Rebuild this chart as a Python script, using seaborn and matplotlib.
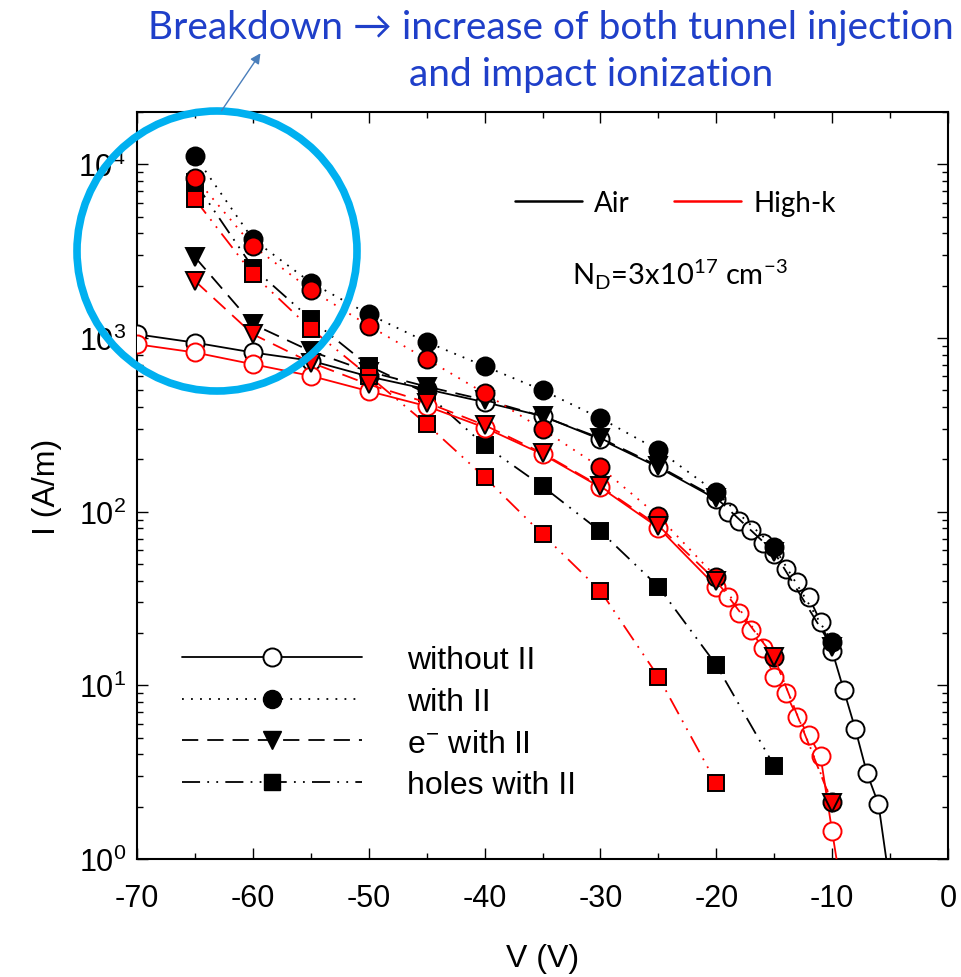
import numpy as np
import pandas as pd
import matplotlib
matplotlib.use("Agg")
import matplotlib.pyplot as plt
from matplotlib.lines import Line2D
from matplotlib.patches import Ellipse, FancyArrowPatch
import seaborn as sns

# ---------------- data ----------------
V_main = [-65, -60, -55, -50, -45, -40, -35, -30, -25, -20, -15, -10]

V_air_wo = [-70, -65, -60, -55, -50, -45, -40, -35, -30, -25, -20, -19, -18, -17,
            -16, -15, -14, -13, -12, -11, -10, -9, -8, -7, -6, -5]
I_air_wo = [1050, 940, 825, 740, 600, 507, 427, 355, 261, 180, 118, 99, 88.6, 78,
            65.6, 57, 46.7, 39.1, 32.1, 23.2, 15.8, 9.4, 5.6, 3.13, 2.07, 0.7]

V_hk_wo = [-70, -65, -60, -55, -50, -45, -40, -35, -30, -25, -20, -19, -18, -17,
           -16, -15, -14, -13, -12, -11, -10, -9]
I_hk_wo = [920, 825, 706, 605, 494, 405, 305, 214, 138, 81, 37, 32.1, 26.1, 20.8,
           16.3, 11.2, 9.0, 6.54, 5.17, 3.9, 1.44, 0.55]

I_air_ii = [11170, 3700, 2085, 1370, 948, 688, 500, 345, 226, 129, 62.5, 17.7]
I_hk_ii = [8380, 3390, 1891, 1177, 755, 481, 298, 180, 94, 42, 14.5, 2.13]

I_air_e = [2920, 1200, 839, 640, 525, 440, 354, 265, 183, 120, 58.5, 16.6]
I_hk_e = [2130, 1051, 722, 540, 425, 315, 217, 140, 83, 40, 14.5, 2.1]

V_air_h = [-65, -60, -55, -50, -45, -40, -35, -30, -25, -20, -15]
I_air_h = [7870, 2540, 1282, 691, 480, 241, 140, 77, 37, 13.1, 3.44]
V_hk_h = [-65, -60, -55, -50, -45, -40, -35, -30, -25, -20]
I_hk_h = [6290, 2330, 1130, 605, 319, 158, 74, 35, 11.2, 2.74]

x_ticks = [-70, -60, -50, -40, -30, -20, -10, 0]
legend_labels = ["without II", "with II", "e$^{-}$ with II", "holes with II"]
env_labels = ["Air", "High-k"]

# ---------------- style ----------------
sns.set_theme(style="ticks")
plt.rcParams["font.family"] = ["Liberation Sans", "DejaVu Sans"]
plt.rcParams["mathtext.fontset"] = "custom"
plt.rcParams["mathtext.rm"] = "Liberation Sans"
plt.rcParams["mathtext.it"] = "Liberation Sans:italic"
plt.rcParams["axes.unicode_minus"] = False
for k in ["text.color", "axes.labelcolor", "xtick.color", "ytick.color",
          "xtick.labelcolor", "ytick.labelcolor", "axes.edgecolor"]:
    plt.rcParams[k] = "black"

fig = plt.figure(figsize=(9.62, 9.78), dpi=100)
ax = fig.add_axes([137 / 962, 1 - 860 / 978, (948 - 137) / 962, (860 - 113) / 978])
ax.set_yscale("log")

styles = {
    "wo": dict(ls="-", marker="o", ms=13),
    "ii": dict(ls=(0, (1, 4)), marker="o", ms=13),
    "e": dict(ls=(0, (9, 5)), marker="v", ms=13),
    "h": dict(ls=(0, (10, 4, 1, 4, 1, 4)), marker="s", ms=11.5),
}

def draw(V, I, kind, color, face, z):
    df = pd.DataFrame({"V": V, "I": I})
    st = styles[kind]
    sns.lineplot(data=df, x="V", y="I", ax=ax, estimator=None, sort=False,
                 color=color, linestyle=st["ls"], linewidth=1.3,
                 marker=st["marker"], markersize=st["ms"],
                 markerfacecolor=face, markeredgecolor=("black" if face != "white" else color),
                 markeredgewidth=1.4, zorder=z)

draw(V_air_wo, I_air_wo, "wo", "black", "white", 3)
draw(V_main, I_air_ii, "ii", "black", "black", 3.1)
draw(V_air_h, I_air_h, "h", "black", "black", 3.2)
draw(V_main, I_air_e, "e", "black", "black", 3.3)
draw(V_hk_wo, I_hk_wo, "wo", "red", "white", 4)
draw(V_main, I_hk_ii, "ii", "red", "red", 4.1)
draw(V_hk_h, I_hk_h, "h", "red", "red", 4.2)
draw(V_main, I_hk_e, "e", "red", "red", 4.3)

ax.set_xlim(-70, 0)
ax.set_ylim(1, 2e4)
ax.set_xticks(x_ticks)
ax.set_xticks(np.arange(-65, 0, 10), minor=True)
ax.set_xticklabels([str(t) for t in x_ticks])
ax.tick_params(which="both", direction="in", top=True, right=True, width=1.0,
               labelsize=22, colors="black", labelcolor="black")
ax.tick_params(which="major", length=8)
ax.tick_params(which="minor", length=4.5)
ax.tick_params(axis="x", pad=17)
ax.tick_params(axis="y", pad=8)
for s in ax.spines.values():
    s.set_linewidth(1.5)
    s.set_color("black")
ax.set_xlabel("V (V)", fontsize=23, labelpad=22, color="black")
ax.set_ylabel("I (A/m)", fontsize=23, labelpad=12, color="black")
ax.grid(False)

# style legend
handles = [
    Line2D([], [], color="black", ls="-", lw=1.3, marker="o", ms=13, mfc="white", mec="black", mew=1.4),
    Line2D([], [], color="black", ls=(0, (1, 4)), lw=1.3, marker="o", ms=13, mfc="black", mec="black"),
    Line2D([], [], color="black", ls=(0, (9, 5)), lw=1.3, marker="v", ms=13, mfc="black", mec="black"),
    Line2D([], [], color="black", ls=(0, (10, 4, 1, 4, 1, 4)), lw=1.3, marker="s", ms=11.5, mfc="black", mec="black"),
]
leg = ax.legend(handles, legend_labels, loc="upper left",
                bbox_to_anchor=((182 - 137) / 811, (860 - 646) / 747),
                frameon=False, fontsize=23, handlelength=5.63, handletextpad=1.41,
                labelspacing=0.37, borderaxespad=0, borderpad=0, numpoints=1)
for t in leg.get_texts():
    t.set_color("black")

# environment legend
lg2 = ax.legend([Line2D([], [], color="black", lw=1.8), Line2D([], [], color="red", lw=1.8)],
                env_labels, loc="upper left",
                bbox_to_anchor=((515 - 137) / 811, (860 - 191) / 747), ncol=2,
                frameon=False, prop={"family": "Lato", "size": 20},
                handlelength=2.4, handletextpad=0.45, columnspacing=1.6,
                borderaxespad=0, borderpad=0)
for t in lg2.get_texts():
    t.set_color("black")
ax.add_artist(leg)

ax.text((572 - 137) / 811, (860 - 275) / 747,
        "N$_\\mathregular{D}$=3x10$^\\mathregular{17}$ cm$^\\mathregular{-3}$",
        transform=ax.transAxes, fontsize=21, family="Lato", va="center", ha="left",
        color="black")

# annotation
blue = "#1f3fc9"
fig.text(551 / 962, 1 - 28 / 978, "Breakdown \u2192 increase of both tunnel injection",
         ha="center", va="center", fontsize=28, color=blue, family=["Lato", "DejaVu Sans"])
fig.text(591 / 962, 1 - 75 / 978, "and impact ionization",
         ha="center", va="center", fontsize=28, color=blue, family=["Lato", "DejaVu Sans"])

circ = Ellipse((217 / 962, 1 - 252 / 978), 280 / 962, 280 / 978, transform=fig.transFigure,
               fill=False, edgecolor="#00b0f0", linewidth=5.5, zorder=10)
fig.add_artist(circ)
fig.add_artist(FancyArrowPatch(
    (220 / 962, 1 - 114 / 978), (262 / 962, 1 - 52 / 978), transform=fig.transFigure,
    arrowstyle="-|>,head_length=6,head_width=3", color="#4a7ebb", lw=1.0, zorder=10))

fig.savefig("out.png", dpi=100)
